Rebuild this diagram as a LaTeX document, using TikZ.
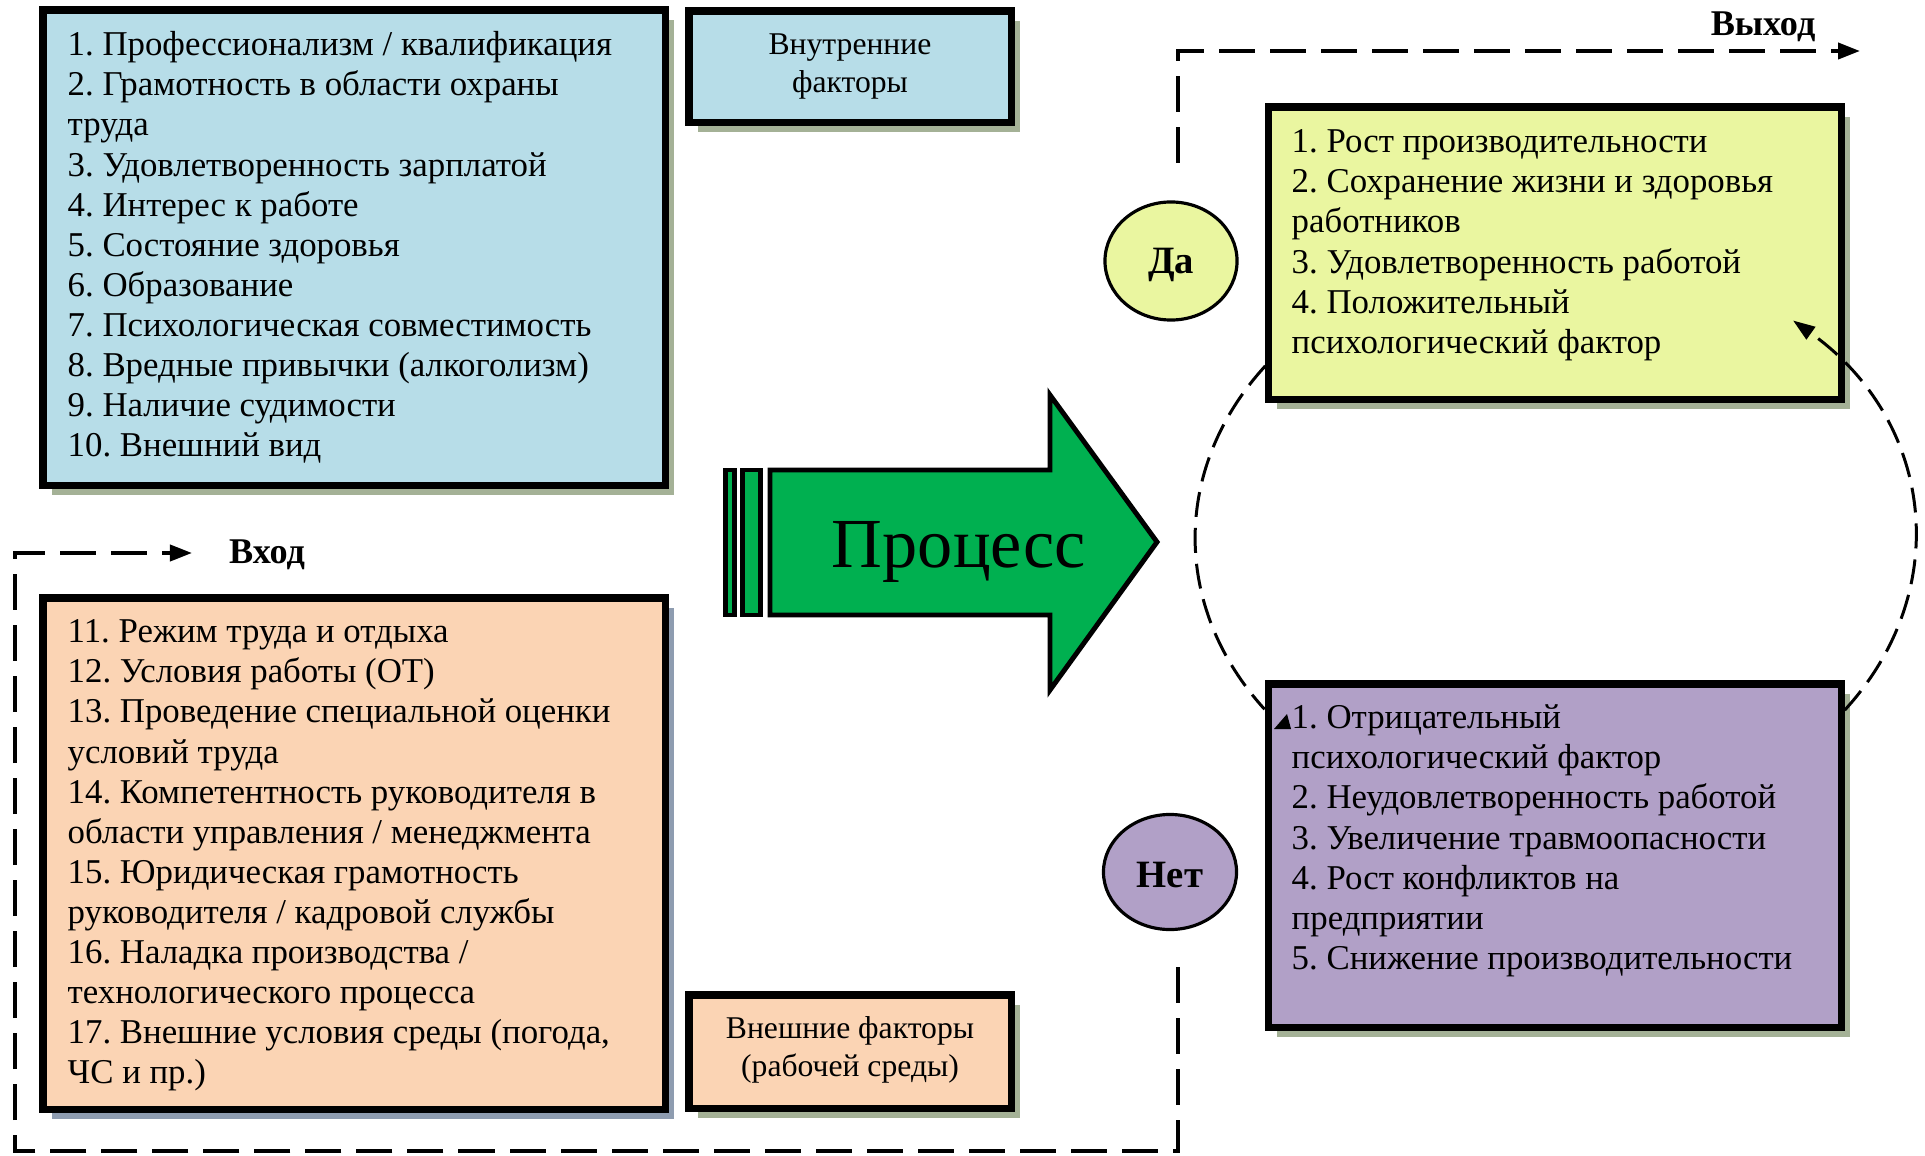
\documentclass[tikz,border=0pt]{standalone}
\usepackage{fontspec}
\setmainfont{Liberation Serif}
\frenchspacing
\usetikzlibrary{arrows.meta,shadows,shapes.geometric}
\definecolor{blueF}{HTML}{B7DDE8}
\definecolor{peachF}{HTML}{FBD4B4}
\definecolor{yellF}{HTML}{EAF6A0}
\definecolor{purpF}{HTML}{B1A0C7}
\definecolor{greenF}{HTML}{00B050}
\definecolor{shG}{HTML}{A4B196}
\definecolor{shB}{HTML}{8E9CB0}
\begin{document}
\begin{tikzpicture}[x=0.01cm,y=-0.01cm,
  box/.style={draw=black, line width=2pt, rectangle, inner sep=0pt, outer sep=0pt, anchor=north west,
    drop shadow={shadow xshift=0.09cm, shadow yshift=-0.1cm, fill=#1, opacity=1}},
  box/.default=shG,
  body/.style={anchor=north west, align=left, inner sep=0pt, font=\fontsize{9.9}{11.4}\selectfont},
  small/.style={anchor=north, align=center, inner sep=0pt, font=\fontsize{9}{10.8}\selectfont},
  circ/.style={ellipse, draw=black, line width=0.9pt, inner sep=0pt},
  lbl/.style={anchor=base, inner sep=0pt, font=\fontsize{10.3}{12}\selectfont\bfseries},
  flow/.style={draw=black, line width=1.1pt, dash pattern=on 0.36cm off 0.15cm, -{Triangle[length=0.22cm,width=0.16cm]}},
  ell/.style={draw=black, line width=0.85pt, dash pattern=on 0.25cm off 0.11cm},
]
\useasboundingbox (0,0) rectangle (1925,1155);

% boxes
\node[box, fill=blueF, minimum width=6.22cm, minimum height=4.75cm] (blue) at (43,10) {};
\node[box, fill=blueF, minimum width=3.22cm, minimum height=1.11cm] (inner) at (689,11) {};
\node[box=shB, fill=peachF, minimum width=6.22cm, minimum height=5.11cm] (peach) at (43,598) {};
\node[box, fill=peachF, minimum width=3.22cm, minimum height=1.13cm] (outer) at (689,995) {};
\node[box, fill=yellF, minimum width=5.73cm, minimum height=2.92cm] (yell) at (1268,107) {};
\node[box, fill=purpF, minimum width=5.73cm, minimum height=3.43cm] (purp) at (1268,684) {};

% texts
\node[body] (bluetext) at (67,27) {\strut 1. Профессионализм / квалификация\\
2. Грамотность в области охраны\\
труда\\
3. Удовлетворенность зарплатой\\
4. Интерес к работе\\
5. Состояние здоровья\\
6. Образование\\
7. Психологическая совместимость\\
8. Вредные привычки (алкоголизм)\\
9. Наличие судимости\\
10. Внешний вид};
\node[small] (innertext) at (850,27) {\strut Внутренние\\факторы};
\node[body] (peachtext) at (67,614) {\strut 11. Режим труда и отдыха\\
12. Условия работы (ОТ)\\
13. Проведение специальной оценки\\
условий труда\\
14. Компетентность руководителя в\\
области управления / менеджмента\\
15. Юридическая грамотность\\
руководителя / кадровой службы\\
16. Наладка производства /\\
технологического процесса\\
17. Внешние условия среды (погода,\\
ЧС и пр.)};
\node[small] (outertext) at (850,1011) {\strut Внешние факторы\\(рабочей среды)};
\node[body] (yelltext) at (1291,124) {\strut 1. Рост производительности\\
2. Сохранение жизни и здоровья\\
работников\\
3. Удовлетворенность работой\\
4. Положительный\\
психологический фактор};
\node[body] (purptext) at (1291,700) {\strut 1. Отрицательный\\
психологический фактор\\
2. Неудовлетворенность работой\\
3. Увеличение травмоопасности\\
4. Рост конфликтов на\\
предприятии\\
5. Снижение производительности};

% circles
\node[circ, fill=yellF, minimum width=1.32cm, minimum height=1.18cm] (da) at (1171,261) {};
\node[lbl, font=\fontsize{11}{13}\selectfont\bfseries] (datext) at (1171,274) {Да};
\node[circ, fill=purpF, minimum width=1.33cm, minimum height=1.15cm] (net) at (1170,872) {};
\node[lbl, font=\fontsize{11}{13}\selectfont\bfseries] (nettext) at (1170,887) {Нет};

% process arrow
\draw[fill=greenF, line width=1.4pt] (725.5,470) rectangle (734.5,615);
\draw[fill=greenF, line width=1.4pt] (742.5,470) rectangle (760.5,615);
\draw[fill=greenF, line width=1.4pt, line join=miter] (770,470) -- (1050,470) -- (1050,395) -- (1157,542) -- (1050,690) -- (1050,615) -- (770,615) -- cycle;
\node[anchor=base, inner sep=0pt, font=\fontsize{20}{24}\selectfont] (proc) at (959,567) {Процесс};

% input / output flows
\coordinate (inS) at (1178,967);
\coordinate (inE) at (192,553);
\draw[flow] (inS) -- (1178,1151) -- (15,1151) -- (15,553) -- (inE);
\node[lbl] (vhod) at (267,563) {Вход};
\coordinate (outS) at (1178,163);
\coordinate (outE) at (1860,51);
\draw[flow] (outS) -- (1178,51) -- (outE);
\node[lbl] (vyhod) at (1763,36) {Выход};

% cycle ellipse
\draw[ell, -{Triangle[length=0.22cm,width=0.15cm]}] (1844.7,710.1) arc[start angle=36.4, end angle=-48.6, x radius=360, y radius=290];
\draw[ell] (1265.3,365.9) arc[start angle=216.4, end angle=143.8, x radius=360, y radius=290];
\fill[black] (1274,729) -- (1291,729) -- (1287,714) -- cycle;
\end{tikzpicture}
\end{document}
